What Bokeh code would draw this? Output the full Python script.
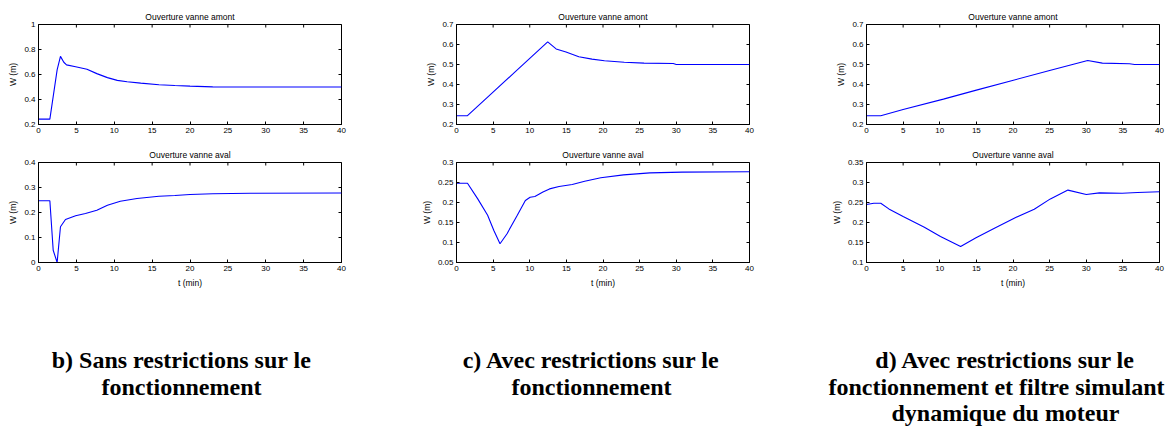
from bokeh.plotting import figure
from bokeh.models import FixedTicker, Range1d, Label
from bokeh.layouts import row, column
from bokeh.embed import file_html
from bokeh.resources import INLINE
import math

# ---------------- data ----------------
x_ticks = [0, 5, 10, 15, 20, 25, 30, 35, 40]

# b) Sans restrictions
t_b_amont = [0, 1.5, 2.46, 2.9, 3.34, 3.7, 4.9, 6.4, 7.7, 9.1, 10.4, 11.7, 13.5, 15.9, 18.0, 20.0, 23.0, 30.0, 40.0]
w_b_amont = [0.243, 0.243, 0.637, 0.745, 0.698, 0.677, 0.662, 0.642, 0.607, 0.575, 0.553, 0.542, 0.531, 0.518, 0.512, 0.507, 0.501, 0.5, 0.5]
t_b_aval = [0, 1.5, 1.94, 2.46, 2.9, 3.56, 4.9, 6.2, 7.7, 9.1, 10.8, 13.0, 15.9, 18.0, 20.0, 23.0, 28.0, 40.0]
w_b_aval = [0.247, 0.247, 0.049, 0.0, 0.143, 0.172, 0.187, 0.196, 0.209, 0.229, 0.245, 0.256, 0.265, 0.268, 0.272, 0.275, 0.277, 0.278]

# c) Avec restrictions
t_c_amont = [0, 1.5, 4.25, 8.0, 12.45, 13.6, 14.95, 16.7, 18.5, 20.2, 22.9, 25.6, 29.6, 30.0, 40.0]
w_c_amont = [0.244, 0.244, 0.337, 0.463, 0.613, 0.578, 0.562, 0.539, 0.527, 0.519, 0.511, 0.507, 0.505, 0.5, 0.5]
t_c_aval = [0, 1.5, 2.9, 4.25, 5.1, 5.94, 6.9, 8.3, 9.4, 10.05, 10.7, 11.8, 12.7, 14.0, 15.8, 17.5, 19.7, 22.8, 26.4, 30.8, 40.0]
w_c_aval = [0.248, 0.248, 0.209, 0.168, 0.13, 0.097, 0.122, 0.168, 0.205, 0.213, 0.215, 0.226, 0.234, 0.24, 0.245, 0.253, 0.262, 0.269, 0.274, 0.276, 0.277]

# d) Avec restrictions et filtre
t_d_amont = [0, 1.95, 5.0, 10.5, 15.0, 19.8, 25.0, 30.2, 32.2, 35.9, 36.6, 40.0]
w_d_amont = [0.244, 0.244, 0.275, 0.327, 0.372, 0.419, 0.47, 0.52, 0.507, 0.504, 0.5, 0.5]
t_d_aval = [0, 1.0, 1.95, 3.05, 5.0, 7.9, 10.1, 12.85, 14.95, 17.6, 20.3, 22.9, 25.1, 27.5, 30.0, 31.8, 34.9, 37.0, 40.0]
w_d_aval = [0.245, 0.248, 0.248, 0.234, 0.215, 0.188, 0.165, 0.14, 0.162, 0.187, 0.212, 0.233, 0.259, 0.281, 0.27, 0.274, 0.273, 0.275, 0.277]

yt_b_top = [0.2, 0.4, 0.6, 0.8, 1.0]
yl_b_top = ["0.2", "0.4", "0.6", "0.8", "1"]
yt_b_bot = [0.0, 0.1, 0.2, 0.3, 0.4]
yl_b_bot = ["0", "0.1", "0.2", "0.3", "0.4"]
yt_c_top = [0.2, 0.3, 0.4, 0.5, 0.6, 0.7]
yl_c_top = ["0.2", "0.3", "0.4", "0.5", "0.6", "0.7"]
yt_c_bot = [0.05, 0.1, 0.15, 0.2, 0.25, 0.3]
yl_c_bot = ["0.05", "0.1", "0.15", "0.2", "0.25", "0.3"]
yt_d_top = [0.2, 0.3, 0.4, 0.5, 0.6, 0.7]
yl_d_top = ["0.2", "0.3", "0.4", "0.5", "0.6", "0.7"]
yt_d_bot = [0.1, 0.15, 0.2, 0.25, 0.3, 0.35]
yl_d_bot = ["0.1", "0.15", "0.2", "0.25", "0.3", "0.35"]

title_top = "Ouverture vanne amont"
title_bot = "Ouverture vanne aval"
y_label = "W (m)"
x_label = "t (min)"
captions = [
    ["b) Sans restrictions sur le", "fonctionnement"],
    ["c) Avec restrictions sur le", "fonctionnement"],
    ["d) Avec restrictions sur le", "fonctionnement et filtre simulant", "dynamique du moteur"],
]

SANS = "Liberation Sans"
SERIF = "Liberation Serif"


def style_axis(ax, ticks, labels=None):
    ax.ticker = FixedTicker(ticks=ticks)
    ax.major_tick_in = 3
    ax.major_tick_out = 0
    ax.minor_tick_line_color = None
    ax.axis_line_color = "black"
    ax.major_tick_line_color = "black"
    ax.axis_line_width = 1
    if labels is not None:
        ax.major_label_overrides = {v: s for v, s in zip(ticks, labels)}
    ax.major_label_text_font = SANS
    ax.major_label_text_font_size = "8px"
    ax.major_label_text_color = "black"
    ax.major_label_standoff = 3
    ax.axis_label_text_font = SANS
    ax.axis_label_text_font_size = "8.5px"
    ax.axis_label_text_font_style = "normal"
    ax.axis_label_text_color = "black"
    ax.axis_label_standoff = 4


def make_fig(t, w, width, height, left, right, top, bottom, yr, yticks, ylabels, title, xlab=None):
    p = figure(width=width, height=height, output_backend="svg", toolbar_location=None,
               x_range=Range1d(0, 40), y_range=Range1d(yr[0], yr[1]),
               min_border_left=left, min_border_right=right,
               min_border_top=top, min_border_bottom=bottom, title=title)
    p.grid.visible = False
    p.outline_line_color = "black"
    p.outline_line_alpha = 1
    p.background_fill_color = "white"
    p.border_fill_color = "white"
    p.title.text_font = SANS
    p.title.text_font_size = "8.5px"
    p.title.text_font_style = "normal"
    p.title.text_color = "black"
    p.title.align = "center"
    p.title.standoff = 6
    style_axis(p.xaxis[0], x_ticks)
    style_axis(p.yaxis[0], yticks, ylabels)
    p.yaxis[0].axis_label = y_label
    p.yaxis[0].axis_label_standoff = 3
    if xlab:
        p.xaxis[0].axis_label = xlab
    # inward ticks on the top and right edges of the box (clipped to the frame)
    p.scatter(x_ticks, [yr[1]] * len(x_ticks), marker="dash", size=6, angle=math.pi / 2,
              line_color="black", line_width=1)
    p.scatter([40] * len(yticks), yticks, marker="dash", size=6,
              line_color="black", line_width=1)
    p.line(t, w, line_color="#0000ff", line_width=1.1)
    return p


cols = []
specs = [
    (418, 38, 77, (t_b_amont, w_b_amont, (0.2, 1.0), yt_b_top, yl_b_top),
     (t_b_aval, w_b_aval, (0.0, 0.4), yt_b_bot, yl_b_bot)),
    (410, 30, 79, (t_c_amont, w_c_amont, (0.2, 0.7), yt_c_top, yl_c_top),
     (t_c_aval, w_c_aval, (0.05, 0.3), yt_c_bot, yl_c_bot)),
    (338, 29, 7, (t_d_amont, w_d_amont, (0.2, 0.7), yt_d_top, yl_d_top),
     (t_d_aval, w_d_aval, (0.1, 0.35), yt_d_bot, yl_d_bot)),
]
for width, left, right, top_s, bot_s in specs:
    ft = make_fig(top_s[0], top_s[1], width, 140, left, right, 24, 16,
                  top_s[2], top_s[3], top_s[4], title_top)
    fb = make_fig(bot_s[0], bot_s[1], width, 150, left, right, 22, 28,
                  bot_s[2], bot_s[3], bot_s[4], title_bot, xlab=x_label)
    cols.append(column(ft, fb))

cap = figure(width=1166, height=136, output_backend="svg", toolbar_location=None,
             x_range=Range1d(0, 1166), y_range=Range1d(136, 0),
             x_axis_type=None, y_axis_type=None,
             min_border_left=0, min_border_right=0, min_border_top=0, min_border_bottom=0)
cap.grid.visible = False
cap.outline_line_color = None
centers = [[181, 181], [591, 591], [1005, 996, 1005]]
baselines = [69, 96, 122]
for cxs, lines in zip(centers, captions):
    for i, txt in enumerate(lines):
        cap.add_layout(Label(x=cxs[i], y=baselines[i], text=txt, text_align="center",
                             text_baseline="alphabetic", text_font=SERIF,
                             text_font_style="bold", text_font_size="24px",
                             text_color="black"))

layout = column(row(*cols), cap)
open("out.html", "w").write(file_html(layout, INLINE))
